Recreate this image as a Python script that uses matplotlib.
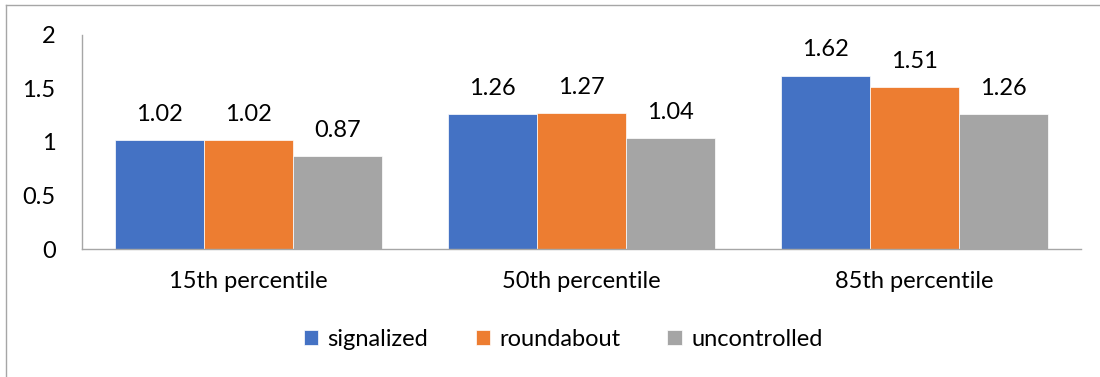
import numpy as np
import matplotlib.pyplot as plt
from matplotlib.lines import Line2D

categories = ['15th percentile', '50th percentile', '85th percentile']
series = ['signalized', 'roundabout', 'uncontrolled']
signalized = [1.02, 1.26, 1.62]
roundabout = [1.02, 1.27, 1.51]
uncontrolled = [0.87, 1.04, 1.26]
colours = ['#4472C4', '#ED7D31', '#A5A5A5']

plt.rcParams['font.family'] = ['Lato', 'DejaVu Sans']
FS = 17

fig = plt.figure(figsize=(11, 3.77), dpi=100)
ax = fig.add_axes([0.0745, 0.3395, 0.9082, 0.5677])

x = np.arange(len(categories))
width = 0.8 / 3
for i, (name, vals) in enumerate(zip(series, [signalized, roundabout, uncontrolled])):
    pos = x + (i - 1) * width
    bars = ax.bar(pos, vals, width, color=colours[i], label=name,
                  edgecolor='white', linewidth=0.5)
    for b, v in zip(bars, vals):
        ax.text(b.get_x() + b.get_width() / 2, v + 0.24, f'{v:.2f}',
                ha='center', va='center', fontsize=FS)

ax.set_xlim(-0.5, 2.5)
ax.set_ylim(0, 2)
ax.set_yticks([0, 0.5, 1, 1.5, 2])
ax.set_yticklabels(['0', '0.5', '1', '1.5', '2'])
ax.set_xticks(x)
ax.set_xticklabels(categories)
ax.tick_params(axis='both', length=0, labelsize=FS)
ax.tick_params(axis='x', pad=16)
ax.tick_params(axis='y', pad=19)
for s in ['top', 'right']:
    ax.spines[s].set_visible(False)
for s in ['left', 'bottom']:
    ax.spines[s].set_color('#A6A6A6')
    ax.spines[s].set_linewidth(1)

ax.legend(loc='center', ncol=3, frameon=False, fontsize=FS,
          handlelength=0.6, handleheight=0.6, handletextpad=0.4,
          columnspacing=2.0)
ax.get_legend().set_bbox_to_anchor((0.512, 0.1), transform=fig.transFigure)

# outer chart frame
fig.add_artist(Line2D([6 / 1100, 6 / 1100], [0, 1 - 5 / 377], transform=fig.transFigure,
                      color='#A6A6A6', linewidth=1))
fig.add_artist(Line2D([6 / 1100, 1], [1 - 5 / 377, 1 - 5 / 377], transform=fig.transFigure,
                      color='#A6A6A6', linewidth=1))

fig.savefig('out.png', dpi=100)
